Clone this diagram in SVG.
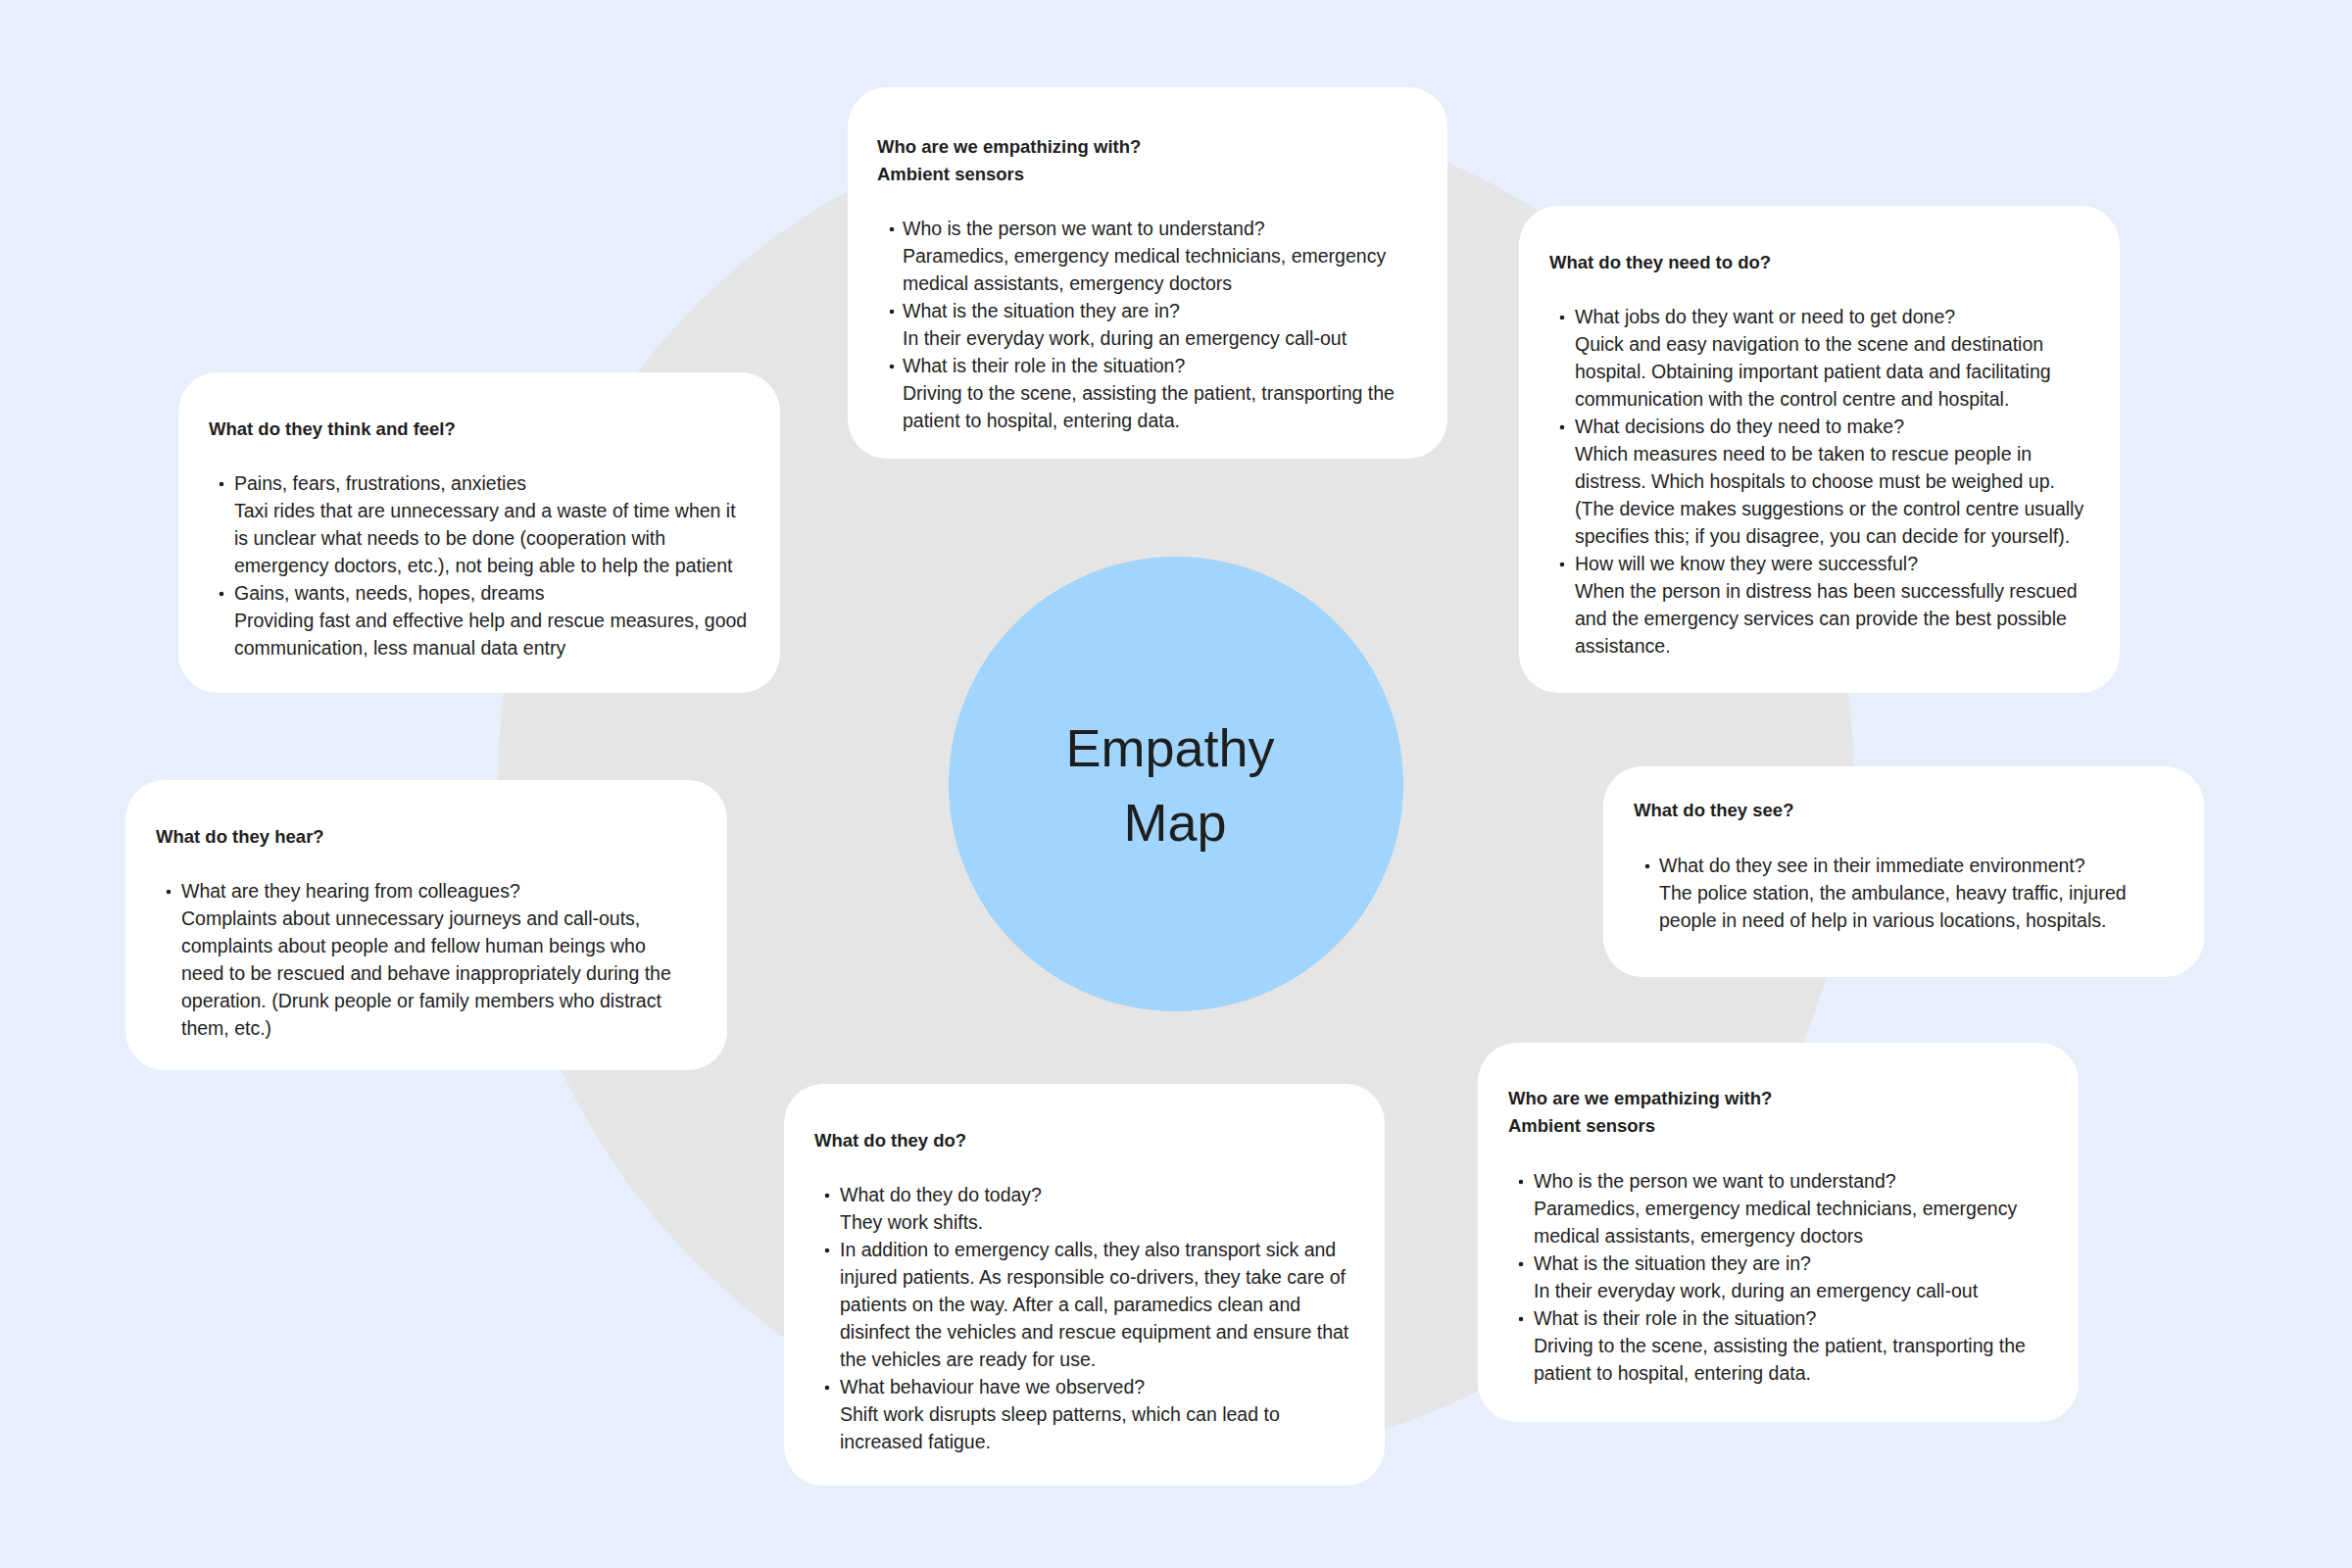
<svg xmlns="http://www.w3.org/2000/svg" width="2400" height="1600" viewBox="0 0 2400 1600">
<style>
.card{fill:#FFFFFF}
.h{font-family:"Liberation Sans",Arial,sans-serif;font-weight:bold;font-size:18.5px;fill:#1E1E1E}
.t{font-family:"Liberation Sans",Arial,sans-serif;font-size:19.5px;fill:#1E1E1E}
.dot{fill:#1E1E1E}
.title{font-family:"Liberation Sans",Arial,sans-serif;font-size:54px;fill:#1E1E1E;text-anchor:middle}
</style>
<rect x="0" y="0" width="2400" height="1600" fill="#E7EEFC"/>
<circle cx="1200" cy="800" r="692" fill="#E5E5E5"/>
<g id="connectors"></g>
<g id="center">
<circle cx="1200" cy="800" r="232" fill="#A1D5FD"/>
<text class="title" x="1194" y="782">Empathy</text>
<text class="title" x="1199" y="858">Map</text>
</g>
<g id="who-top">
<rect class="card" x="865" y="89" width="612" height="379" rx="40"/>
<text class="h" x="895" y="156">Who are we empathizing with?</text>
<text class="h" x="895" y="184">Ambient sensors</text>
<circle class="dot" cx="910" cy="234" r="2.3"/>
<circle class="dot" cx="910" cy="318" r="2.3"/>
<circle class="dot" cx="910" cy="374" r="2.3"/>
<text class="t" x="921" y="240">Who is the person we want to understand?</text>
<text class="t" x="921" y="268">Paramedics, emergency medical technicians, emergency</text>
<text class="t" x="921" y="296">medical assistants, emergency doctors</text>
<text class="t" x="921" y="324">What is the situation they are in?</text>
<text class="t" x="921" y="352">In their everyday work, during an emergency call-out</text>
<text class="t" x="921" y="380">What is their role in the situation?</text>
<text class="t" x="921" y="408">Driving to the scene, assisting the patient, transporting the</text>
<text class="t" x="921" y="436">patient to hospital, entering data.</text>
</g>
<g id="think-feel">
<rect class="card" x="182" y="380" width="614" height="327" rx="40"/>
<text class="h" x="213" y="444">What do they think and feel?</text>
<circle class="dot" cx="226" cy="494" r="2.3"/>
<circle class="dot" cx="226" cy="606" r="2.3"/>
<text class="t" x="239" y="500">Pains, fears, frustrations, anxieties</text>
<text class="t" x="239" y="528">Taxi rides that are unnecessary and a waste of time when it</text>
<text class="t" x="239" y="556">is unclear what needs to be done (cooperation with</text>
<text class="t" x="239" y="584">emergency doctors, etc.), not being able to help the patient</text>
<text class="t" x="239" y="612">Gains, wants, needs, hopes, dreams</text>
<text class="t" x="239" y="640">Providing fast and effective help and rescue measures, good</text>
<text class="t" x="239" y="668">communication, less manual data entry</text>
</g>
<g id="need-to-do">
<rect class="card" x="1550" y="210" width="613" height="497" rx="40"/>
<text class="h" x="1581" y="274">What do they need to do?</text>
<circle class="dot" cx="1594" cy="324" r="2.3"/>
<circle class="dot" cx="1594" cy="436" r="2.3"/>
<circle class="dot" cx="1594" cy="576" r="2.3"/>
<text class="t" x="1607" y="330">What jobs do they want or need to get done?</text>
<text class="t" x="1607" y="358">Quick and easy navigation to the scene and destination</text>
<text class="t" x="1607" y="386">hospital. Obtaining important patient data and facilitating</text>
<text class="t" x="1607" y="414">communication with the control centre and hospital.</text>
<text class="t" x="1607" y="442">What decisions do they need to make?</text>
<text class="t" x="1607" y="470">Which measures need to be taken to rescue people in</text>
<text class="t" x="1607" y="498">distress. Which hospitals to choose must be weighed up.</text>
<text class="t" x="1607" y="526">(The device makes suggestions or the control centre usually</text>
<text class="t" x="1607" y="554">specifies this; if you disagree, you can decide for yourself).</text>
<text class="t" x="1607" y="582">How will we know they were successful?</text>
<text class="t" x="1607" y="610">When the person in distress has been successfully rescued</text>
<text class="t" x="1607" y="638">and the emergency services can provide the best possible</text>
<text class="t" x="1607" y="666">assistance.</text>
</g>
<g id="hear">
<rect class="card" x="128" y="796" width="614" height="296" rx="40"/>
<text class="h" x="159" y="860">What do they hear?</text>
<circle class="dot" cx="172" cy="910" r="2.3"/>
<text class="t" x="185" y="916">What are they hearing from colleagues?</text>
<text class="t" x="185" y="944">Complaints about unnecessary journeys and call-outs,</text>
<text class="t" x="185" y="972">complaints about people and fellow human beings who</text>
<text class="t" x="185" y="1000">need to be rescued and behave inappropriately during the</text>
<text class="t" x="185" y="1028">operation. (Drunk people or family members who distract</text>
<text class="t" x="185" y="1056">them, etc.)</text>
</g>
<g id="see">
<rect class="card" x="1636" y="782" width="613" height="215" rx="40"/>
<text class="h" x="1667" y="833">What do they see?</text>
<circle class="dot" cx="1681" cy="884" r="2.3"/>
<text class="t" x="1693" y="890">What do they see in their immediate environment?</text>
<text class="t" x="1693" y="918">The police station, the ambulance, heavy traffic, injured</text>
<text class="t" x="1693" y="946">people in need of help in various locations, hospitals.</text>
</g>
<g id="do">
<rect class="card" x="800" y="1106" width="613" height="410" rx="40"/>
<text class="h" x="831" y="1170">What do they do?</text>
<circle class="dot" cx="844" cy="1220" r="2.3"/>
<circle class="dot" cx="844" cy="1276" r="2.3"/>
<circle class="dot" cx="844" cy="1416" r="2.3"/>
<text class="t" x="857" y="1226">What do they do today?</text>
<text class="t" x="857" y="1254">They work shifts.</text>
<text class="t" x="857" y="1282">In addition to emergency calls, they also transport sick and</text>
<text class="t" x="857" y="1310">injured patients. As responsible co-drivers, they take care of</text>
<text class="t" x="857" y="1338">patients on the way. After a call, paramedics clean and</text>
<text class="t" x="857" y="1366">disinfect the vehicles and rescue equipment and ensure that</text>
<text class="t" x="857" y="1394">the vehicles are ready for use.</text>
<text class="t" x="857" y="1422">What behaviour have we observed?</text>
<text class="t" x="857" y="1450">Shift work disrupts sleep patterns, which can lead to</text>
<text class="t" x="857" y="1478">increased fatigue.</text>
</g>
<g id="who-bottom">
<rect class="card" x="1508" y="1064" width="613" height="387" rx="40"/>
<text class="h" x="1539" y="1127">Who are we empathizing with?</text>
<text class="h" x="1539" y="1155">Ambient sensors</text>
<circle class="dot" cx="1552" cy="1206" r="2.3"/>
<circle class="dot" cx="1552" cy="1290" r="2.3"/>
<circle class="dot" cx="1552" cy="1346" r="2.3"/>
<text class="t" x="1565" y="1212">Who is the person we want to understand?</text>
<text class="t" x="1565" y="1240">Paramedics, emergency medical technicians, emergency</text>
<text class="t" x="1565" y="1268">medical assistants, emergency doctors</text>
<text class="t" x="1565" y="1296">What is the situation they are in?</text>
<text class="t" x="1565" y="1324">In their everyday work, during an emergency call-out</text>
<text class="t" x="1565" y="1352">What is their role in the situation?</text>
<text class="t" x="1565" y="1380">Driving to the scene, assisting the patient, transporting the</text>
<text class="t" x="1565" y="1408">patient to hospital, entering data.</text>
</g>
</svg>
